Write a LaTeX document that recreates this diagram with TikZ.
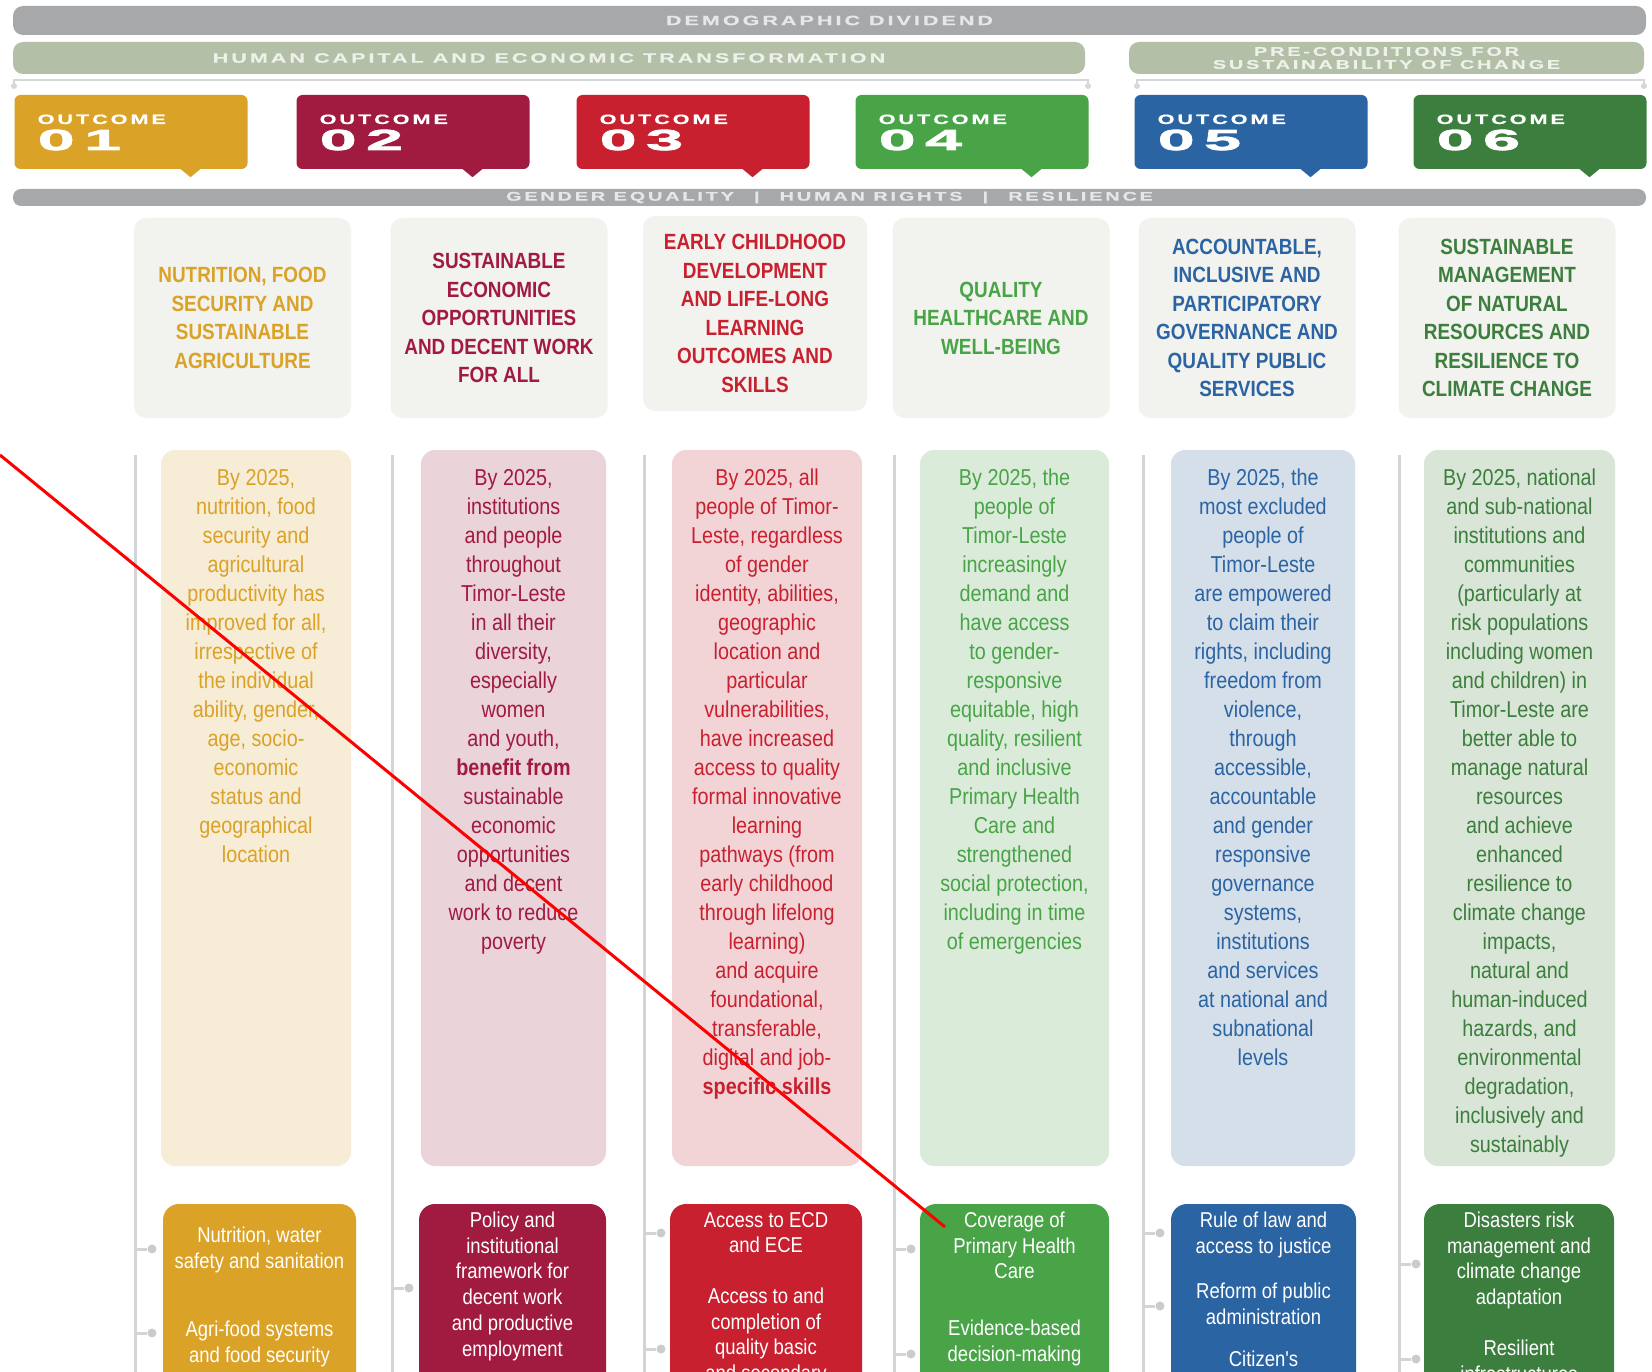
\documentclass[tikz,border=0pt]{standalone}
\usepackage{fontspec}
\setmainfont{Liberation Sans}
\newfontfamily\narrowfont{Liberation Sans}[FakeStretch=0.86]
\newfontfamily\widefont{Liberation Sans}[FakeStretch=1.6,LetterSpace=22,FakeBold=0.6]
\newfontfamily\numfont{Liberation Sans}[FakeStretch=2.3,LetterSpace=32,FakeBold=2.5]
\usetikzlibrary{positioning}

\definecolor{barGray}{HTML}{A7A8AA}
\definecolor{barText}{HTML}{E6E7E8}
\definecolor{barSage}{HTML}{B3BFA6}
\definecolor{sageText}{HTML}{EEF1EA}
\definecolor{brGray}{HTML}{D6D7D9}
\definecolor{lineGray}{HTML}{D2D4D6}
\definecolor{dotGray}{HTML}{C9CBCD}
\definecolor{titleBg}{HTML}{F2F2EE}
\definecolor{ocA}{HTML}{DAA227}
\definecolor{ocB}{HTML}{A11A3F}
\definecolor{ocC}{HTML}{C8202F}
\definecolor{ocD}{HTML}{48A447}
\definecolor{ocE}{HTML}{2B64A2}
\definecolor{ocF}{HTML}{3C7E3D}
\definecolor{bgA}{HTML}{F7ECD5}
\definecolor{bgB}{HTML}{EAD3D9}
\definecolor{bgC}{HTML}{F2D4D7}
\definecolor{bgD}{HTML}{DBEBDA}
\definecolor{bgE}{HTML}{D4DFEA}
\definecolor{bgF}{HTML}{D8E5D7}

\begin{document}
\begin{tikzpicture}[x=1pt,y=-1pt,
  bar/.style={rounded corners=10pt,fill=barGray,text=barText,inner sep=0pt,
    minimum height=29pt,font=\widefont\bfseries\fontsize{13.5}{13.5}\selectfont},
  sagebar/.style={bar,fill=barSage,text=sageText,minimum height=32pt,align=center},
  bdot/.style={circle,fill=brGray,inner sep=0pt,minimum size=6pt},
  bracket/.style={draw=brGray,line width=2pt},
  outbox/.style={rounded corners=6pt,fill=#1,inner sep=0pt,
    minimum width=233pt,minimum height=74pt},
  outword/.style={anchor=base west,inner sep=0pt,text=white,
    font=\widefont\bfseries\fontsize{13.5}{13.5}\selectfont},
  outnum/.style={anchor=base west,inner sep=0pt,text=white,
    font=\numfont\bfseries\fontsize{29}{29}\selectfont},
  titlebox/.style={rounded corners=12pt,fill=titleBg,inner sep=0pt,
    minimum width=217pt,minimum height=200pt,align=center,text=#1,
    font=\narrowfont\bfseries\fontsize{22}{28.5}\selectfont},
  descbox/.style={rounded corners=14pt,fill=#1,inner sep=0pt,minimum height=716pt},
  desctext/.style={inner sep=0pt,align=center,text=#1,
    font=\narrowfont\fontsize{23}{29}\selectfont},
  subbox/.style={rounded corners=16pt,fill=#1,inner sep=0pt,minimum height=320pt},
  subtext/.style={inner sep=0pt,align=center,text=white,
    font=\narrowfont\fontsize{21.5}{25.7}\selectfont},
  vline/.style={draw=lineGray,line width=3pt},
  sdot/.style={circle,fill=dotGray,inner sep=0pt,minimum size=9pt}]

\useasboundingbox (0,0) rectangle (1652,1372);
\clip (0,0) rectangle (1652,1372);
\fill[white] (0,0) rectangle (1652,1372);

% bands across the top
\node[bar,minimum width=1633pt] (demo) at (829.5,20.5) {DEMOGRAPHIC DIVIDEND};
\node[sagebar,minimum width=1072pt] (human) at (549,58)
  {HUMAN CAPITAL AND ECONOMIC TRANSFORMATION};
\node[sagebar,minimum width=515pt,font=\widefont\bfseries\fontsize{12.5}{13}\selectfont] (precond) at (1386.5,58)
  {PRE-CONDITIONS FOR\\SUSTAINABILITY OF CHANGE};

\node[bdot] (humanL) at (14,86) {};
\node[bdot] (humanR) at (1088,86) {};
\node[bdot] (precondL) at (1137,86) {};
\node[bdot] (precondR) at (1644,86) {};
\draw[bracket] (humanL) -- ++(0,-6) -| (humanR);
\draw[bracket] (precondL) -- ++(0,-6) -| (precondR);

% outcome tabs
\node[outbox=ocA] (oc1) at (131,132) {};
\node[outbox=ocB] (oc2) at (413,132) {};
\node[outbox=ocC] (oc3) at (693,132) {};
\node[outbox=ocD] (oc4) at (972,132) {};
\node[outbox=ocE] (oc5) at (1251,132) {};
\node[outbox=ocF] (oc6) at (1530,132) {};

\fill[ocA] ([xshift=48.5pt,yshift=1pt]oc1.south) -- ([xshift=70.5pt,yshift=1pt]oc1.south) -- ([xshift=59.5pt,yshift=-8pt]oc1.south) -- cycle;
\fill[ocB] ([xshift=48.5pt,yshift=1pt]oc2.south) -- ([xshift=70.5pt,yshift=1pt]oc2.south) -- ([xshift=59.5pt,yshift=-8pt]oc2.south) -- cycle;
\fill[ocC] ([xshift=48.5pt,yshift=1pt]oc3.south) -- ([xshift=70.5pt,yshift=1pt]oc3.south) -- ([xshift=59.5pt,yshift=-8pt]oc3.south) -- cycle;
\fill[ocD] ([xshift=48.5pt,yshift=1pt]oc4.south) -- ([xshift=70.5pt,yshift=1pt]oc4.south) -- ([xshift=59.5pt,yshift=-8pt]oc4.south) -- cycle;
\fill[ocE] ([xshift=48.5pt,yshift=1pt]oc5.south) -- ([xshift=70.5pt,yshift=1pt]oc5.south) -- ([xshift=59.5pt,yshift=-8pt]oc5.south) -- cycle;
\fill[ocF] ([xshift=48.5pt,yshift=1pt]oc6.south) -- ([xshift=70.5pt,yshift=1pt]oc6.south) -- ([xshift=59.5pt,yshift=-8pt]oc6.south) -- cycle;

\node[outword] (oc1w) at (37.5,124) {OUTCOME};
\node[outnum] (oc1n) at (37.5,150) {01};
\node[outword] (oc2w) at (319.5,124) {OUTCOME};
\node[outnum] (oc2n) at (319.5,150) {02};
\node[outword] (oc3w) at (599.5,124) {OUTCOME};
\node[outnum] (oc3n) at (599.5,150) {03};
\node[outword] (oc4w) at (878.5,124) {OUTCOME};
\node[outnum] (oc4n) at (878.5,150) {04};
\node[outword] (oc5w) at (1157.5,124) {OUTCOME};
\node[outnum] (oc5n) at (1157.5,150) {05};
\node[outword] (oc6w) at (1436.5,124) {OUTCOME};
\node[outnum] (oc6n) at (1436.5,150) {06};

\node[bar,minimum width=1633pt,minimum height=17pt,rounded corners=8pt,
  font=\widefont\bfseries\fontsize{12.5}{12.5}\selectfont] (gender) at (829.5,197.5)
  {GENDER EQUALITY\hspace{20pt}|\hspace{20pt}HUMAN RIGHTS\hspace{20pt}|\hspace{20pt}RESILIENCE};

% outcome titles
\node[titlebox=ocA] (ti1) at (242.5,318)
  {NUTRITION, FOOD\\SECURITY AND\\SUSTAINABLE\\AGRICULTURE};
\node[titlebox=ocB] (ti2) at (499,318)
  {SUSTAINABLE\\ECONOMIC\\OPPORTUNITIES\\AND DECENT WORK\\FOR ALL};
\node[titlebox=ocC,minimum width=224pt,minimum height=195pt] (ti3) at (755,313.5)
  {EARLY CHILDHOOD\\DEVELOPMENT\\AND LIFE-LONG\\LEARNING\\OUTCOMES AND\\SKILLS};
\node[titlebox=ocD] (ti4) at (1001,318)
  {QUALITY\\HEALTHCARE AND\\WELL-BEING};
\node[titlebox=ocE] (ti5) at (1247,318)
  {ACCOUNTABLE,\\INCLUSIVE AND\\PARTICIPATORY\\GOVERNANCE AND\\QUALITY PUBLIC\\SERVICES};
\node[titlebox=ocF] (ti6) at (1507,318)
  {SUSTAINABLE\\MANAGEMENT\\OF NATURAL\\RESOURCES AND\\RESILIENCE TO\\CLIMATE CHANGE};

% column rails
\coordinate (v1) at (135,455);
\coordinate (v2) at (392,455);
\coordinate (v3) at (644,455);
\coordinate (v4) at (894,455);
\coordinate (v5) at (1143,455);
\coordinate (v6) at (1399,455);
\draw[vline] (v1) -- ++(0,940);
\draw[vline] (v2) -- ++(0,940);
\draw[vline] (v3) -- ++(0,940);
\draw[vline] (v4) -- ++(0,940);
\draw[vline] (v5) -- ++(0,940);
\draw[vline] (v6) -- ++(0,940);

% outcome statements
\node[descbox=bgA,minimum width=190pt] (de1) at (256,808) {};
\node[descbox=bgB,minimum width=185pt] (de2) at (513.5,808) {};
\node[descbox=bgC,minimum width=190pt] (de3) at (767,808) {};
\node[descbox=bgD,minimum width=189pt] (de4) at (1014.5,808) {};
\node[descbox=bgE,minimum width=184pt] (de5) at (1263,808) {};
\node[descbox=bgF,minimum width=191pt] (de6) at (1519.5,808) {};

\node[desctext=ocA,below=19pt of de1.north] (de1t)
  {By 2025,\\nutrition, food\\security and\\agricultural\\productivity has\\improved for all,\\irrespective of\\the individual\\ability, gender,\\age, socio-\\economic\\status and\\geographical\\location};
\node[desctext=ocB,below=19pt of de2.north] (de2t)
  {By 2025,\\institutions\\and people\\throughout\\Timor-Leste\\in all their\\diversity,\\especially\\women\\and youth,\\\textbf{benefit from}\\sustainable\\economic\\opportunities\\and decent\\work to reduce\\poverty};
\node[desctext=ocC,below=19pt of de3.north] (de3t)
  {By 2025, all\\people of Timor-\\Leste, regardless\\of gender\\identity, abilities,\\geographic\\location and\\particular\\vulnerabilities,\\have increased\\access to quality\\formal innovative\\learning\\pathways (from\\early childhood\\through lifelong\\learning)\\and acquire\\foundational,\\transferable,\\digital and job-\\\textbf{specific skills}};
\node[desctext=ocD,below=19pt of de4.north] (de4t)
  {By 2025, the\\people of\\Timor-Leste\\increasingly\\demand and\\have access\\to gender-\\responsive\\equitable, high\\quality, resilient\\and inclusive\\Primary Health\\Care and\\strengthened\\social protection,\\including in time\\of emergencies};
\node[desctext=ocE,below=19pt of de5.north] (de5t)
  {By 2025, the\\most excluded\\people of\\Timor-Leste\\are empowered\\to claim their\\rights, including\\freedom from\\violence,\\through\\accessible,\\accountable\\and gender\\responsive\\governance\\systems,\\institutions\\and services\\at national and\\subnational\\levels};
\node[desctext=ocF,below=19pt of de6.north] (de6t)
  {By 2025, national\\and sub-national\\institutions and\\communities\\(particularly at\\risk populations\\including women\\and children) in\\Timor-Leste are\\better able to\\manage natural\\resources\\and achieve\\enhanced\\resilience to\\climate change\\impacts,\\natural and\\human-induced\\hazards, and\\environmental\\degradation,\\inclusively and\\sustainably};

% outputs
\node[subbox=ocA,minimum width=193pt] (su1) at (259.5,1364) {};
\node[subbox=ocB,minimum width=187pt] (su2) at (512.5,1364) {};
\node[subbox=ocC,minimum width=192pt] (su3) at (766,1364) {};
\node[subbox=ocD,minimum width=189pt] (su4) at (1014.5,1364) {};
\node[subbox=ocE,minimum width=185pt] (su5) at (1263.5,1364) {};
\node[subbox=ocF,minimum width=190pt] (su6) at (1519,1364) {};

\node[subtext,below=23pt of su1.north] (su1t)
  {Nutrition, water\\safety and sanitation\\[43pt]Agri-food systems\\and food security};
\node[subtext,below=8pt of su2.north] (su2t)
  {Policy and\\institutional\\framework for\\decent work\\and productive\\employment};
\node[subtext,below=8pt of su3.north] (su3t)
  {Access to ECD\\and ECE\\[25pt]Access to and\\completion of\\quality basic\\and secondary};
\node[subtext,below=8pt of su4.north] (su4t)
  {Coverage of\\Primary Health\\Care\\[31pt]Evidence-based\\decision-making};
\node[subtext,below=8pt of su5.north] (su5t)
  {Rule of law and\\access to justice\\[20pt]Reform of public\\administration\\[16pt]Citizen's};
\node[subtext,below=8pt of su6.north] (su6t)
  {Disasters risk\\management and\\climate change\\adaptation\\[25pt]Resilient\\infrastructures};

\node[sdot] (d1a) at (152,1249) {};
\node[sdot] (d1b) at (152,1333) {};
\node[sdot] (d2a) at (409,1288) {};
\node[sdot] (d3a) at (661,1233) {};
\node[sdot] (d3b) at (661,1349) {};
\node[sdot] (d4a) at (911,1249) {};
\node[sdot] (d4b) at (911,1354) {};
\node[sdot] (d5a) at (1160,1233) {};
\node[sdot] (d5b) at (1160,1306) {};
\node[sdot] (d6a) at (1416,1264) {};
\node[sdot] (d6b) at (1416,1359) {};
\draw[vline] (d1a) -- (d1a -| v1);
\draw[vline] (d1b) -- (d1b -| v1);
\draw[vline] (d2a) -- (d2a -| v2);
\draw[vline] (d3a) -- (d3a -| v3);
\draw[vline] (d3b) -- (d3b -| v3);
\draw[vline] (d4a) -- (d4a -| v4);
\draw[vline] (d4b) -- (d4b -| v4);
\draw[vline] (d5a) -- (d5a -| v5);
\draw[vline] (d5b) -- (d5b -| v5);
\draw[vline] (d6a) -- (d6a -| v6);
\draw[vline] (d6b) -- (d6b -| v6);

% red marker line
\coordinate (markS) at (0,455);
\coordinate (markE) at (945,1227);
\draw[red,line width=3pt] (markS) -- (markE);
\end{tikzpicture}
\end{document}
